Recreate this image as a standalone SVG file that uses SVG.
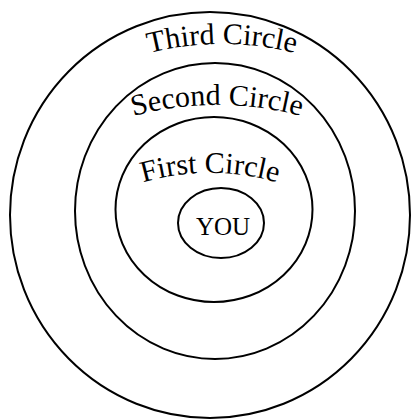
<svg xmlns="http://www.w3.org/2000/svg" xmlns:xlink="http://www.w3.org/1999/xlink" width="414" height="420" viewBox="0 0 414 420">
  <style>
    .ring { fill: none; stroke: #000; stroke-width: 2; }
    .lbl { font-family: "Liberation Serif", "Times New Roman", serif; font-size: 30px; fill: #000; }
    .you { font-family: "Liberation Serif", "Times New Roman", serif; font-size: 25px; fill: #000; }
  </style>
  <defs>
    <path id="arc3" d="M 72,84.2 A 300 300 0 0 1 372,84.2"/>
    <path id="arc2" d="M 67,142.3 A 320 320 0 0 1 367,142.3"/>
    <path id="arc1" d="M 90,205 A 240 240 0 0 1 330,205"/>
  </defs>
  <rect width="414" height="420" fill="#fff"/>
  <g id="third-circle">
    <ellipse class="ring" cx="210" cy="215" rx="200" ry="203"/>
    <text class="lbl" text-anchor="middle"><textPath xlink:href="#arc3" href="#arc3" startOffset="50%">Third Circle</textPath></text>
  </g>
  <g id="second-circle">
    <ellipse class="ring" cx="215" cy="211" rx="140" ry="148"/>
    <text class="lbl" text-anchor="middle"><textPath xlink:href="#arc2" href="#arc2" startOffset="50%">Second Circle</textPath></text>
  </g>
  <g id="first-circle">
    <ellipse class="ring" cx="214" cy="209.5" rx="98.5" ry="92.5"/>
    <text class="lbl" text-anchor="middle"><textPath xlink:href="#arc1" href="#arc1" startOffset="50%">First Circle</textPath></text>
  </g>
  <g id="you">
    <ellipse class="ring" cx="221" cy="223" rx="43" ry="35"/>
    <text class="you" x="223" y="235" text-anchor="middle">YOU</text>
  </g>
  <g id="connectors"/>
</svg>
